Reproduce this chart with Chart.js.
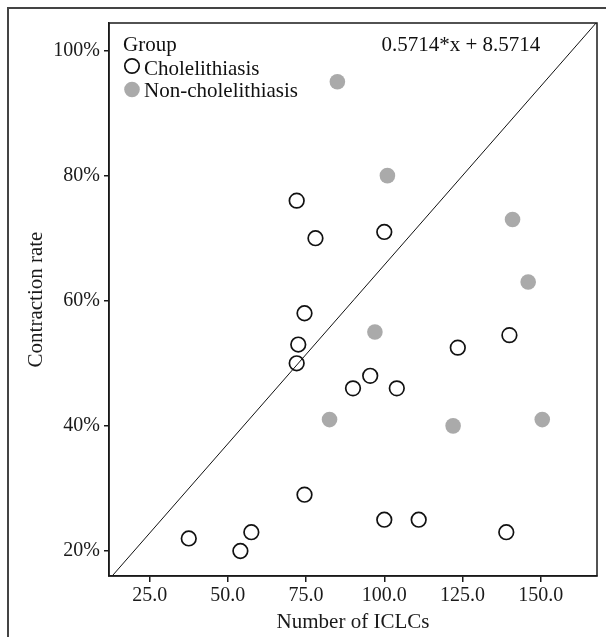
<!DOCTYPE html>
<html>
<head>
<meta charset="utf-8">
<script src="https://cdn.jsdelivr.net/npm/chart.js@4.4.1/dist/chart.umd.min.js"></script>
<style>
  html, body { margin: 0; padding: 0; background: #fff; }
  #wrap { position: relative; width: 606px; height: 637px; }
</style>
</head>
<body>
<div id="wrap"><canvas id="c" width="606" height="637"></canvas></div>
<script>
// ---- data ----
const groupTitle = 'Group';
const seriesNames = ['Cholelithiasis', 'Non-cholelithiasis'];
const cholX = [72, 78, 100, 74.5, 72.5, 72, 90, 95.5, 104, 123.5, 140, 74.5, 100, 111, 139, 37.5, 54, 57.5];
const cholY = [76, 70, 71, 58, 53, 50, 46, 48, 46, 52.5, 54.5, 29, 25, 25, 23, 22, 20, 23];
const nonX = [85, 101, 141, 146, 97, 82.5, 122, 150.5];
const nonY = [95, 80, 73, 63, 55, 41, 40, 41];
const fitSlope = 0.5714;
const fitIntercept = 8.5714;
const fitLabel = '0.5714*x + 8.5714';
const xTicks = [25, 50, 75, 100, 125, 150];
const yTicks = [20, 40, 60, 80, 100];
const xTitle = 'Number of ICLCs';
const yTitle = 'Contraction rate';
const xRange = [12, 168];
const yRange = [16, 104.4];

const FONT = "'Liberation Serif', 'Times New Roman', serif";
const INK = '#1a1a1a';

const toPts = (xs, ys) => xs.map((x, i) => ({ x, y: ys[i] }));
const fitPts = xRange.map(x => ({ x, y: fitSlope * x + fitIntercept }));

const framePlugin = {
  id: 'frame',
  beforeDraw(chart) {
    const ctx = chart.ctx;
    ctx.save();
    ctx.fillStyle = '#fff';
    ctx.fillRect(0, 0, chart.width, chart.height);
    ctx.strokeStyle = '#444';
    ctx.lineWidth = 2;
    ctx.beginPath();
    ctx.moveTo(8, chart.height);
    ctx.lineTo(8, 8);
    ctx.lineTo(chart.width, 8);
    ctx.stroke();
    ctx.restore();
  },
  afterDraw(chart) {
    const ctx = chart.ctx;
    const a = chart.chartArea;
    ctx.save();
    ctx.strokeStyle = INK;
    ctx.lineWidth = 1.5;
    ctx.strokeRect(a.left, a.top, a.right - a.left, a.bottom - a.top);

    // legend
    ctx.fillStyle = '#111';
    ctx.font = '21px ' + FONT;
    ctx.textBaseline = 'alphabetic';
    ctx.textAlign = 'left';
    ctx.fillText(groupTitle, a.left + 14, 51);
    const ds = chart.data.datasets;
    const rows = [{ y: 66, text: 74.5 }, { y: 89.5, text: 97 }];
    for (let i = 0; i < 2; i++) {
      const d = ds[i];
      ctx.beginPath();
      if (i === 0) {
        ctx.arc(a.left + 23, rows[i].y, 7.2, 0, Math.PI * 2);
        ctx.strokeStyle = d.borderColor;
        ctx.lineWidth = d.borderWidth;
        ctx.stroke();
      } else {
        ctx.arc(a.left + 23, rows[i].y, 7.8, 0, Math.PI * 2);
        ctx.fillStyle = d.backgroundColor;
        ctx.fill();
      }
      ctx.fillStyle = '#111';
      ctx.fillText(seriesNames[i], a.left + 35, rows[i].text);
    }
    // equation
    ctx.fillText(fitLabel, 381.5, 50.5);
    ctx.restore();
  }
};

new Chart(document.getElementById('c'), {
  type: 'scatter',
  data: {
    datasets: [
      {
        label: seriesNames[0],
        data: toPts(cholX, cholY),
        pointRadius: 7.3,
        pointHoverRadius: 7.3,
        borderWidth: 1.7,
        borderColor: '#111',
        backgroundColor: 'rgba(0,0,0,0)'
      },
      {
        label: seriesNames[1],
        data: toPts(nonX, nonY),
        pointRadius: 7.8,
        pointHoverRadius: 7.8,
        borderWidth: 0,
        borderColor: '#aaaaaa',
        backgroundColor: '#aaaaaa'
      },
      {
        label: 'fit',
        data: fitPts,
        showLine: true,
        pointRadius: 0,
        borderColor: '#111',
        borderWidth: 1,
        clip: 0
      }
    ]
  },
  options: {
    responsive: false,
    animation: false,
    events: [],
    layout: { padding: { left: 20, top: 23, right: 9, bottom: 0 } },
    plugins: { legend: { display: false }, tooltip: { enabled: false } },
    scales: {
      x: {
        type: 'linear',
        position: 'bottom',
        min: xRange[0],
        max: xRange[1],
        afterBuildTicks: s => { s.ticks = xTicks.map(v => ({ value: v })); },
        afterFit: s => { s.height = 61; },
        grid: { drawOnChartArea: false, drawTicks: true, tickLength: 6, color: INK, lineWidth: 1.5 },
        border: { display: true, color: INK, width: 1.5 },
        ticks: {
          font: { family: FONT, size: 20 },
          color: '#1a1a1a',
          padding: 2,
          maxRotation: 0,
          autoSkip: false,
          callback: v => Number(v).toFixed(1)
        },
        title: {
          display: true,
          text: xTitle,
          font: { family: FONT, size: 21 },
          color: '#1a1a1a',
          padding: { top: 0, bottom: 2 }
        }
      },
      y: {
        type: 'linear',
        min: yRange[0],
        max: yRange[1],
        afterBuildTicks: s => { s.ticks = yTicks.map(v => ({ value: v })); },
        afterFit: s => { s.width = 89; },
        grid: { drawOnChartArea: false, drawTicks: true, tickLength: 5, color: INK, lineWidth: 1.5 },
        border: { display: true, color: INK, width: 1.5 },
        ticks: {
          font: { family: FONT, size: 20 },
          color: '#1a1a1a',
          padding: 4,
          autoSkip: false,
          callback: v => v + '%'
        },
        title: {
          display: true,
          text: yTitle,
          font: { family: FONT, size: 21 },
          color: '#1a1a1a',
          padding: { top: 4, bottom: 0 }
        }
      }
    }
  },
  plugins: [framePlugin]
});
</script>
</body>
</html>
